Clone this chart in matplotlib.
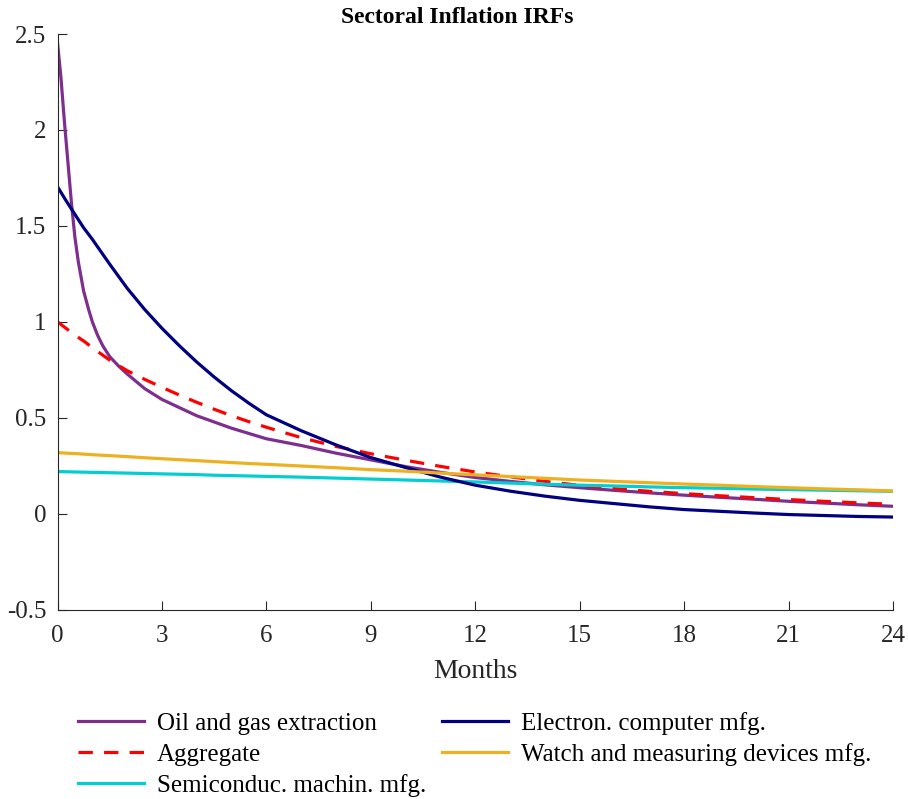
import matplotlib

matplotlib.use("Agg")
import matplotlib.pyplot as plt

plt.rcParams["font.family"] = ["Liberation Serif", "DejaVu Serif"]

# oil and gas falls very steeply at the start, so it gets a finer grid there
months_oil = [0, 0.1, 0.2, 0.3, 0.4, 0.5, 0.6, 0.75, 0.9, 1, 1.15, 1.3, 1.5,
              1.75, 2, 2.5, 3, 4, 5, 6, 7, 8, 9, 10, 11, 12, 13, 14, 15, 16,
              17, 18, 19, 20, 21, 22, 23, 24]
oil_gas = [2.455, 2.27, 2.04, 1.83, 1.62, 1.44, 1.31, 1.16, 1.06, 1.0, 0.93,
           0.875, 0.818, 0.77, 0.728, 0.652, 0.595, 0.51, 0.445, 0.39, 0.355,
           0.315, 0.28, 0.245, 0.215, 0.188, 0.168, 0.15, 0.135, 0.121, 0.108,
           0.096, 0.085, 0.075, 0.064, 0.055, 0.046, 0.038]

months = [0, 0.25, 0.5, 0.75, 1, 1.5, 2, 2.5, 3, 3.5, 4, 4.5, 5, 5.5, 6, 7, 8,
          9, 10, 11, 12, 13, 14, 15, 16, 17, 18, 19, 20, 21, 22, 23, 24]
aggregate = [1.0, 0.965, 0.93, 0.90, 0.865, 0.80, 0.745, 0.70, 0.658, 0.618,
             0.58, 0.544, 0.51, 0.479, 0.45, 0.396, 0.35, 0.312, 0.278, 0.246,
             0.217, 0.192, 0.168, 0.147, 0.13, 0.116, 0.104, 0.093, 0.083,
             0.073, 0.064, 0.056, 0.048]
semiconduc = [0.219, 0.218, 0.217, 0.216, 0.215, 0.213, 0.211, 0.209, 0.207,
              0.205, 0.203, 0.2, 0.198, 0.196, 0.194, 0.19, 0.185, 0.18, 0.175,
              0.17, 0.165, 0.159, 0.153, 0.148, 0.144, 0.139, 0.135, 0.132,
              0.128, 0.125, 0.122, 0.119, 0.116]
computer = [1.704, 1.63, 1.56, 1.49, 1.43, 1.30, 1.175, 1.065, 0.966, 0.875,
            0.79, 0.712, 0.64, 0.575, 0.515, 0.432, 0.358, 0.292, 0.24, 0.19,
            0.148, 0.117, 0.091, 0.069, 0.052, 0.035, 0.021, 0.012, 0.003,
            -0.005, -0.01, -0.015, -0.018]
watch = [0.318, 0.315, 0.313, 0.310, 0.307, 0.302, 0.297, 0.291, 0.286, 0.281,
         0.276, 0.271, 0.266, 0.261, 0.257, 0.248, 0.239, 0.229, 0.221, 0.211,
         0.202, 0.193, 0.184, 0.175, 0.168, 0.161, 0.154, 0.148, 0.141, 0.135,
         0.129, 0.124, 0.118]

x_ticks = [0, 3, 6, 9, 12, 15, 18, 21, 24]
y_ticks = [-0.5, 0, 0.5, 1, 1.5, 2, 2.5]
y_tick_labels = ["-0.5", "0", "0.5", "1", "1.5", "2", "2.5"]

fig = plt.figure(figsize=(9.08, 7.99), dpi=100)
ax = fig.add_axes([57.5 / 908, 1 - 609.5 / 799, 835.5 / 908, 575.5 / 799])

lw = 2.3
h_oil, = ax.plot(months_oil, oil_gas, color="#7E2F8E", lw=lw,
                 label="Oil and gas extraction")
h_agg, = ax.plot(months, aggregate, color="#FF0000", lw=lw, ls=(0, (4.5, 3.5)),
                 label="Aggregate")
h_semi, = ax.plot(months, semiconduc, color="#00CED1", lw=lw,
                  label="Semiconduc. machin. mfg.")
h_comp, = ax.plot(months, computer, color="#000080", lw=lw,
                  label="Electron. computer mfg.")
h_watch, = ax.plot(months, watch, color="#EDB120", lw=lw,
                   label="Watch and measuring devices mfg.")

ax.set_xlim(0, 24)
ax.set_ylim(-0.5, 2.5)
ax.set_xticks(x_ticks)
ax.set_yticks(y_ticks)
ax.set_yticklabels(y_tick_labels)
ax.tick_params(direction="in", length=6.5, width=0.8, colors="#262626",
               labelsize=18, labelcolor="#262626")
ax.tick_params(axis="x", pad=11)
ax.tick_params(axis="y", pad=8)
for s in ["top", "right"]:
    ax.spines[s].set_visible(False)
for s in ["left", "bottom"]:
    ax.spines[s].set_color("#262626")
    ax.spines[s].set_linewidth(0.8)

fig.text(475 / 908, 1 - 678 / 799, "Months", ha="center", va="baseline",
         fontsize=20, color="#262626")
fig.text(457 / 908, 1 - 23 / 799, "Sectoral Inflation IRFs", ha="center",
         va="baseline", fontsize=17, fontweight="bold")

fig.legend(handles=[h_oil, h_agg, h_semi, h_comp, h_watch], ncol=2,
           loc="upper left", bbox_to_anchor=(78 / 908, 1 - 712 / 799),
           frameon=False, fontsize=18, handlelength=2.64, handletextpad=0.52,
           columnspacing=0.64, labelspacing=0.33, borderaxespad=0, borderpad=0)

fig.savefig("out.png", dpi=100)
